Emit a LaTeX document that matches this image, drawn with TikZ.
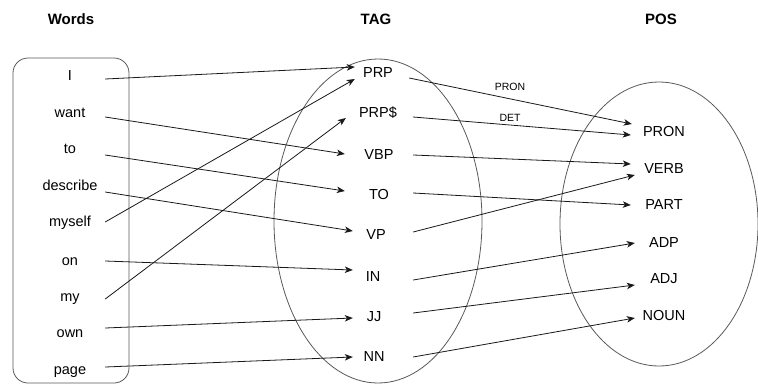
\documentclass[tikz,border=0pt]{standalone}
\usepackage{fontspec}
\setmainfont{Liberation Sans}
\usetikzlibrary{arrows.meta,calc}

\tikzset{
  title/.style={font=\fontsize{15}{18}\selectfont\bfseries, inner sep=0pt},
  lbl/.style={font=\fontsize{14.5}{17}\selectfont, inner sep=0pt,
              text height=11pt, text depth=2pt},
  wordlbl/.style={lbl, minimum width=70pt},
  taglbl/.style={lbl, minimum width=64pt},
  poslbl/.style={lbl, minimum width=64pt},
  elbl/.style={font=\fontsize{10.5}{12}\selectfont, inner sep=1pt},
  arr/.style={draw=black!90, line width=0.8pt,
              -{Stealth[length=8pt,width=6.5pt,inset=2.2pt]}},
  setline/.style={draw=black!65, line width=0.8pt},
}

\begin{document}
\begin{tikzpicture}[x=1pt,y=-1pt]
\useasboundingbox (0,0) rectangle (758,386);

% column headings
\node[title] (hWords) at (71,19) {Words};
\node[title] (hTag)   at (376,19) {TAG};
\node[title] (hPos)   at (661,19) {POS};

% container of the sentence and the two tag sets
\draw[setline, rounded corners=15pt] (13,58) rectangle (129,383);
\draw[setline] (378,221) ellipse [x radius=104, y radius=162];
\draw[setline] (659,224) ellipse [x radius=99, y radius=142];

% words of the sentence
\node[wordlbl] (wI)        at (70,76)  {I};
\node[wordlbl] (wWant)     at (70,113) {want};
\node[wordlbl] (wTo)       at (70,149) {to};
\node[wordlbl] (wDescribe) at (70,186) {describe};
\node[wordlbl] (wMyself)   at (70,222) {myself};
\node[wordlbl] (wOn)       at (70,261) {on};
\node[wordlbl] (wMy)       at (70,297) {my};
\node[wordlbl] (wOwn)      at (70,333) {own};
\node[wordlbl] (wPage)     at (70,370) {page};

% fine-grained tags
\node[taglbl] (PRP)  at (378,73)  {PRP};
\node[taglbl] (PRPd) at (378,113) {PRP\$};
\node[taglbl] (VBP)  at (379,155) {VBP};
\node[taglbl] (TO)   at (379,195) {TO};
\node[taglbl] (VP)   at (376,235) {VP};
\node[taglbl] (IN)   at (373,277) {IN};
\node[taglbl] (JJ)   at (374,317) {JJ};
\node[taglbl] (NN)   at (374,357) {NN};

% universal parts of speech
\node[poslbl] (PRON) at (664,132) {PRON};
\node[poslbl] (VERB) at (664,169) {VERB};
\node[poslbl] (PART) at (664,205) {PART};
\node[poslbl] (ADP)  at (664,243) {ADP};
\node[poslbl] (ADJ)  at (664,279) {ADJ};
\node[poslbl] (NOUN) at (664,316) {NOUN};

% word -> tag
\draw[arr] ($(wI.east)+(0,3)$)        -- ($(PRP.west)+(9,-6)$);
\draw[arr] ($(wWant.east)+(0,4)$)     -- ($(VBP.west)+(-2,-1)$);
\draw[arr] ($(wTo.east)+(0,6)$)       -- ($(TO.west)+(-2,-4)$);
\draw[arr] ($(wDescribe.east)+(0,6)$) -- ($(VP.west)+(9,-4)$);
\draw[arr] (wMyself.east)             -- ($(PRP.west)+(9,6)$);
\draw[arr] (wOn.east)                 -- ($(IN.west)+(12,-7)$);
\draw[arr] ($(wMy.east)+(0,2)$)       -- ($(PRPd.west)+(0,5)$);
\draw[arr] ($(wOwn.east)+(0,-5)$)     -- ($(JJ.west)+(11,1)$);
\draw[arr] ($(wPage.east)+(0,-3)$)    -- ($(NN.west)+(11,0)$);

% tag -> part of speech
\draw[arr] ($(PRP.east)+(-1,5)$)  -- ($(PRON.west)+(0,-8)$);
\draw[arr] ($(PRPd.east)+(3,4)$)  -- ($(PRON.west)+(-1,3)$);
\draw[arr] ($(VBP.east)+(2,0)$)   -- ($(VERB.west)+(-1,-5)$);
\draw[arr] ($(TO.east)+(2,-2)$)   -- ($(PART.west)+(-1,0)$);
\draw[arr] ($(VP.east)+(5,-3)$)   -- ($(VERB.west)+(3,6)$);
\draw[arr] ($(IN.east)+(8,3)$)    -- ($(ADP.west)+(3,0)$);
\draw[arr] ($(JJ.east)+(7,-4)$)   -- ($(ADJ.west)+(3,6)$);
\draw[arr] ($(NN.east)+(7,0)$)    -- ($(NOUN.west)+(3,2)$);

% edge labels
\node[elbl] (lPron) at (510,87)  {PRON};
\node[elbl] (lDet)  at (510,118) {DET};
\end{tikzpicture}
\end{document}
